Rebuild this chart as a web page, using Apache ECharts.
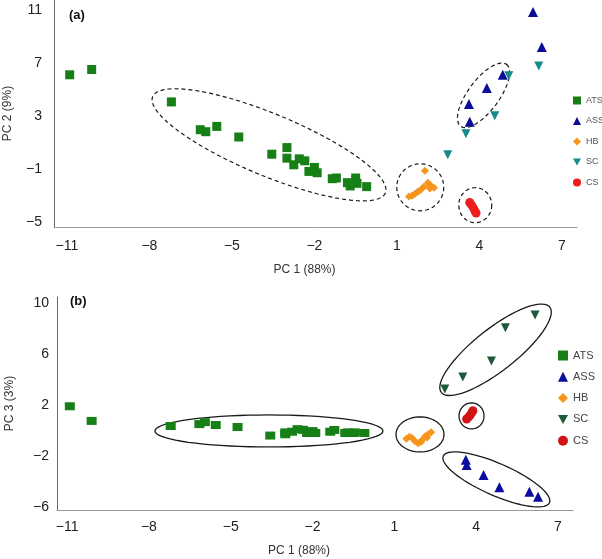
<!DOCTYPE html>
<html><head><meta charset="utf-8">
<script src="https://cdn.jsdelivr.net/npm/echarts@6/dist/echarts.min.js"></script>
<style>html,body{margin:0;padding:0;background:#fff}#c{width:602px;height:559px}</style>
</head><body><div id="c"></div>
<script>
// ---- data (PC scores per group) ----
const groups = ['ATS', 'ASS', 'HB', 'SC', 'CS'];
const pc1ATS = [-10.9, -10.1, -7.2, -6.15, -5.95, -5.55, -4.75, -3.55, -3.0, -3.0, -2.75, -2.55, -2.35, -2.2, -2.0, -1.9, -1.35, -1.2, -0.8, -0.7, -0.5, -0.45, -0.1];
const pc2ATS = [6.1, 6.5, 4.05, 1.95, 1.8, 2.2, 1.4, 0.1, 0.6, -0.2, -0.7, -0.25, -0.4, -1.2, -0.9, -1.3, -1.75, -1.7, -2.05, -2.3, -1.7, -2.1, -2.35];
const pc3ATS = [1.9, 0.75, 0.35, 0.5, 0.65, 0.43, 0.27, -0.4, -0.15, -0.3, -0.1, 0.1, 0.05, -0.2, -0.05, -0.2, -0.1, 0.04, -0.2, -0.15, -0.2, -0.15, -0.2];
const pc1ASS = [5.95, 6.27, 4.85, 4.27, 3.62, 3.65];
const pc2ASS = [10.85, 8.2, 6.1, 5.1, 3.9, 2.55];
const pc3ASS = [-4.8, -5.2, -4.45, -3.5, -2.3, -2.7];
const pc1HB = [2.02, 1.44, 1.55, 1.65, 1.76, 1.87, 1.98, 2.13, 2.24, 2.35, 2.2];
const pc2HB = [-1.15, -3.1, -3.04, -2.9, -2.74, -2.58, -2.36, -2.06, -2.28, -2.43, -2.5];
const pc3HB = [-0.75, -0.65, -0.5, -0.6, -0.85, -1.0, -0.9, -0.45, -0.3, -0.15, -0.55];
const pc1SC = [6.16, 5.07, 4.56, 3.51, 2.85];
const pc2SC = [6.77, 6.02, 3.0, 1.64, 0.06];
const pc3SC = [9.05, 8.05, 5.45, 4.2, 3.25];
const pc1CS = [3.65, 3.72, 3.78, 3.84, 3.88];
const pc2CS = [-3.55, -3.75, -3.95, -4.2, -4.35];
const pc3CS = [0.9, 1.05, 1.2, 1.4, 1.55];
const xTicks = [-11, -8, -5, -2, 1, 4, 7];
const yTicksA = [-5, -1, 3, 7, 11];
const yTicksB = [-6, -2, 2, 6, 10];

// ---- annotation ellipses: centre in data units, radii (px), rotation (deg) ----
const ellA = [[-3.65, 0.81, 126, 31, 22.5], [1.85, -2.4, 23.5, 23.5, 0], [3.85, -3.75, 16.5, 17.5, 0], [4.15, 4.55, 38.5, 15.5, -53.5]];
const ellB = [[-3.6, -0.04, 114, 16, 0], [1.94, -0.31, 24, 17.5, 0], [3.83, 1.14, 12.5, 13, 0], [4.74, -3.84, 58, 16, 23.7], [4.71, 6.33, 69, 21, -38.2]];

const zip = (a, b) => a.map((v, i) => [v, b[i]]);
const FONT = 'Liberation Sans, Arial, sans-serif';
const minus = v => String(v).replace('-', '\u2212');
const invTri = 'path://M0,0 L10,0 L5,9 Z';
const stylesA = {
  ATS: {symbol: 'rect', size: 9, color: '#168016'},
  ASS: {symbol: 'triangle', size: 10, color: '#0c0c96'},
  HB: {symbol: 'diamond', size: 8, color: '#f7941d'},
  SC: {symbol: invTri, size: 9, color: '#178a8a'},
  CS: {symbol: 'circle', size: 9, color: '#ee1c1c'}
};
const stylesB = {
  ATS: {symbol: 'rect', size: [10, 8], color: '#168016'},
  ASS: {symbol: 'triangle', size: 10, color: '#0c0c9e'},
  HB: {symbol: 'diamond', size: 8, color: '#f7941d'},
  SC: {symbol: invTri, size: 9, color: '#1d5a3a'},
  CS: {symbol: 'circle', size: 9, color: '#d41414'}
};
const dataA = {ATS: zip(pc1ATS, pc2ATS), ASS: zip(pc1ASS, pc2ASS), HB: zip(pc1HB, pc2HB), SC: zip(pc1SC, pc2SC), CS: zip(pc1CS, pc2CS)};
const dataB = {ATS: zip(pc1ATS, pc3ATS), ASS: zip(pc1ASS, pc3ASS), HB: zip(pc1HB, pc3HB), SC: zip(pc1SC, pc3SC), CS: zip(pc1CS, pc3CS)};

function ellipseSeries(list, idx, dashed) {
  return {
    type: 'custom', xAxisIndex: idx, yAxisIndex: idx, silent: true, z: 1,
    data: list,
    renderItem: function (params, api) {
      const c = api.coord([api.value(0), api.value(1)]);
      const rx = api.value(2), ry = api.value(3), ph = api.value(4) * Math.PI / 180;
      const pts = [];
      for (let i = 0; i < 72; i++) {
        const t = 2 * Math.PI * i / 72;
        pts.push([c[0] + rx * Math.cos(t) * Math.cos(ph) - ry * Math.sin(t) * Math.sin(ph),
                  c[1] + rx * Math.cos(t) * Math.sin(ph) + ry * Math.sin(t) * Math.cos(ph)]);
      }
      return {type: 'polygon', shape: {points: pts},
        style: {fill: 'none', stroke: '#1a1a1a', lineWidth: dashed ? 1.2 : 1.3, lineDash: dashed ? [4, 3] : null}};
    }
  };
}

const series = [ellipseSeries(ellA, 0, true), ellipseSeries(ellB, 1, false)];
groups.forEach(g => {
  series.push({type: 'scatter', name: g, xAxisIndex: 0, yAxisIndex: 0, data: dataA[g], z: 3,
    symbol: stylesA[g].symbol, symbolSize: stylesA[g].size, itemStyle: {color: stylesA[g].color, opacity: 1}});
});
groups.forEach(g => {
  series.push({type: 'scatter', name: g, xAxisIndex: 1, yAxisIndex: 1, data: dataB[g], z: 3,
    symbol: stylesB[g].symbol, symbolSize: stylesB[g].size, itemStyle: {color: stylesB[g].color, opacity: 1}});
});

function xAxisCfg(idx, min, gap, pad) {
  return {gridIndex: idx, type: 'value', min: min, max: 7.55,
    name: 'PC 1 (88%)', nameLocation: 'middle', nameGap: gap,
    nameTextStyle: {fontFamily: FONT, fontSize: 12, color: '#333', padding: [0, pad, 0, 0]},
    axisLine: {show: true, onZero: false, lineStyle: {color: '#9a9a9a', width: 1}},
    axisTick: {show: false}, splitLine: {show: false},
    axisLabel: {customValues: xTicks, formatter: minus, fontFamily: FONT, fontSize: 14, color: '#222', margin: idx ? 10 : 12}};
}
function yAxisCfg(idx, min, max, ticks, name, gap, margin) {
  return {gridIndex: idx, type: 'value', min: min, max: max,
    name: name, nameLocation: 'middle', nameGap: gap, nameRotate: 90,
    nameTextStyle: {fontFamily: FONT, fontSize: 12, color: '#333'},
    axisLine: {show: true, onZero: false, lineStyle: {color: '#666', width: 1}},
    axisTick: {show: false}, splitLine: {show: false},
    axisLabel: {customValues: ticks, formatter: minus, fontFamily: FONT, fontSize: 14, color: '#222', margin: margin}};
}
const legIcons = {ATS: 'rect', ASS: 'triangle', HB: 'diamond', SC: invTri, CS: 'circle'};

const option = {
  animation: false,
  backgroundColor: '#fff',
  title: [
    {text: '(a)', left: 64, top: 4, textStyle: {fontFamily: FONT, fontSize: 13, fontWeight: 'bold', color: '#111'}},
    {text: '(b)', left: 65, top: 290, textStyle: {fontFamily: FONT, fontSize: 13, fontWeight: 'bold', color: '#111'}}
  ],
  grid: [
    {left: 54, top: 0, width: 523, height: 227, containLabel: false, outerBoundsMode: 'none'},
    {left: 57, top: 297, width: 516, height: 213, containLabel: false, outerBoundsMode: 'none'}
  ],
  xAxis: [xAxisCfg(0, -11.47, 37, 22), xAxisCfg(1, -11.37, 35, 32)],
  yAxis: [yAxisCfg(0, -5.4, 11.75, yTicksA, 'PC 2 (9%)', 40, 12), yAxisCfg(1, -6.24, 10.47, yTicksB, 'PC 3 (3%)', 41, 8)],
  legend: [
    {orient: 'vertical', left: 573, top: 96, padding: 0, itemWidth: 8, itemHeight: 8, itemGap: 11.5, selectedMode: false,
      textStyle: {fontFamily: FONT, fontSize: 9, color: '#555'},
      data: groups.map(g => ({name: g, icon: legIcons[g], itemStyle: {color: stylesA[g].color}}))},
    {orient: 'vertical', left: 558, top: 350, padding: 0, itemWidth: 10, itemHeight: 10, itemGap: 10.3, selectedMode: false,
      textStyle: {fontFamily: FONT, fontSize: 11, color: '#444'},
      data: groups.map(g => ({name: g, icon: legIcons[g], itemStyle: {color: stylesB[g].color}}))}
  ],
  series: series
};
const chart = echarts.init(document.getElementById('c'), null, {renderer: 'canvas'});
chart.setOption(option);
</script></body></html>
